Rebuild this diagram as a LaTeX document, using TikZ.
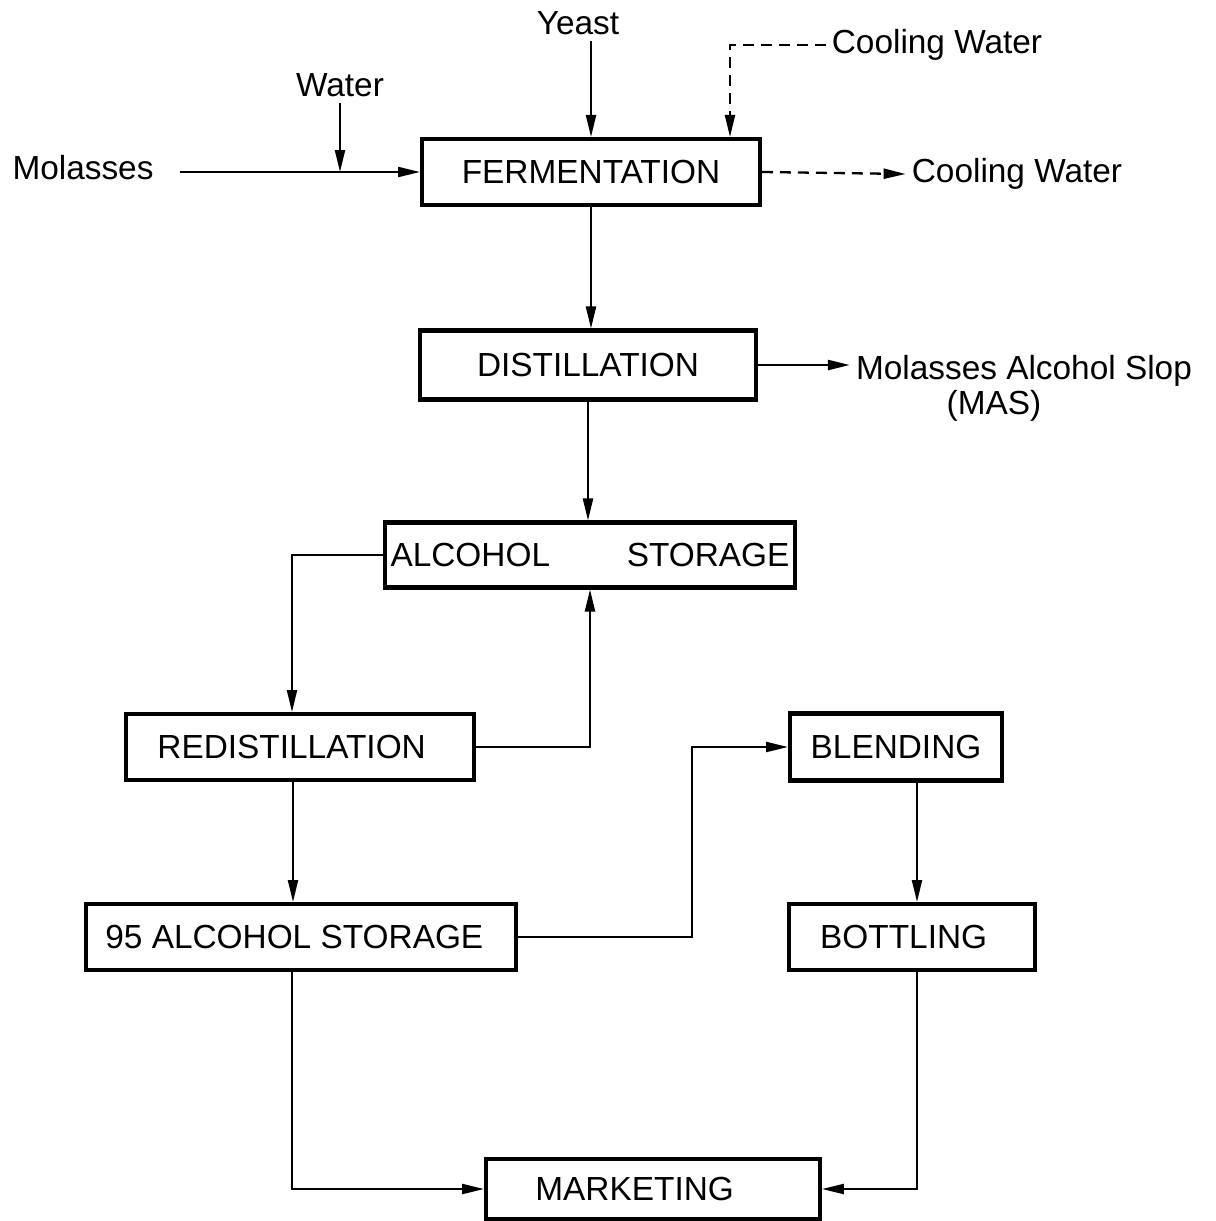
\documentclass[tikz,border=0pt]{standalone}
\usepackage{fontspec}
\setmainfont{Liberation Sans}
\usetikzlibrary{arrows.meta}

\begin{document}
\begin{tikzpicture}[x=0.02cm, y=-0.02cm,
            box/.style={draw, line width=2.3pt, minimum height=1.32cm, inner sep=0pt, font=\fontsize{19}{22}\selectfont},
            lbl/.style={font=\fontsize{19}{22}\selectfont},
            arr/.style={line width=1.3pt, -{Triangle[length=0.44cm, width=0.2cm]}},
            dasharr/.style={arr, dash pattern=on 0.22cm off 0.14cm}]
        \useasboundingbox (0,0) rectangle (1216,1221);

        % process boxes
        \node[box, minimum width=6.76cm] (ferm) at (591,172) {FERMENTATION};
        \node[box, minimum width=6.72cm, minimum height=1.38cm] (dist) at (588,365) {DISTILLATION};
        \node[box, minimum width=8.2cm, minimum height=1.3cm] (store) at (590,555) {ALCOHOL\hspace{2.3em}STORAGE};
        \node[box, minimum width=6.96cm] (redist) at (300,747) {\kern-0.5em REDISTILLATION};
        \node[box, minimum width=4.24cm, minimum height=1.34cm] (blend) at (896,747) {BLENDING};
        \node[box, minimum width=8.6cm] (store95) at (301,937) {\kern-0.4em 95 ALCOHOL STORAGE};
        \node[box, minimum width=4.92cm] (bottle) at (912,937) {\kern-0.5em BOTTLING};
        \node[box, minimum width=6.68cm, minimum height=1.2cm] (market) at (653,1189) {MARKETING\kern1.1em};

        % inputs and outputs
        \node[lbl] (mol) at (83,168) {Molasses};
        \node[lbl] (water) at (340,85) {Water};
        \node[lbl] (yeast) at (578,23) {Yeast};
        \node[lbl] (cwin) at (937,45) {Cooling Water};
        \node[lbl] (cwout) at (1017,174) {Cooling Water};
        \node[lbl] (mas) at (1024,371) {Molasses Alcohol Slop};
        \node[lbl] (mas2) at (994,406) {(MAS)};

        \draw[arr] ([xshift=0.4cm]mol.east |- ferm.west) -- (ferm.west);
        \draw[arr] (water.south) -- (water.south |- ferm.west);
        \draw[arr] (yeast.south -| ferm.north) -- (ferm.north);
        \draw[dasharr] (cwin.west) -| ([xshift=-0.64cm]ferm.north east);
        \draw[dasharr] (ferm.east) -- (cwout.west);

        \draw[arr] (ferm.south) -- (ferm.south |- dist.north);
        \draw[arr] (dist.east) -- (mas.west |- dist.east);
        \draw[arr] (dist.south) -- (dist.south |- store.north);

        \draw[arr] (store.west) -| ([xshift=-0.16cm]redist.north);
        \draw[arr] (redist.east) -| (store.south);
        \draw[arr] (redist.south -| 293,0) -- (store95.north -| 293,0);
        \draw[arr] (store95.east) -- ++(174,0) |- (blend.west);
        \draw[arr] (blend.south -| 917,0) -- (bottle.north -| 917,0);

        \draw[arr] (store95.south -| 292,0) |- (market.west);
        \draw[arr] (bottle.south -| 917,0) |- (market.east);
\end{tikzpicture}
\end{document}
